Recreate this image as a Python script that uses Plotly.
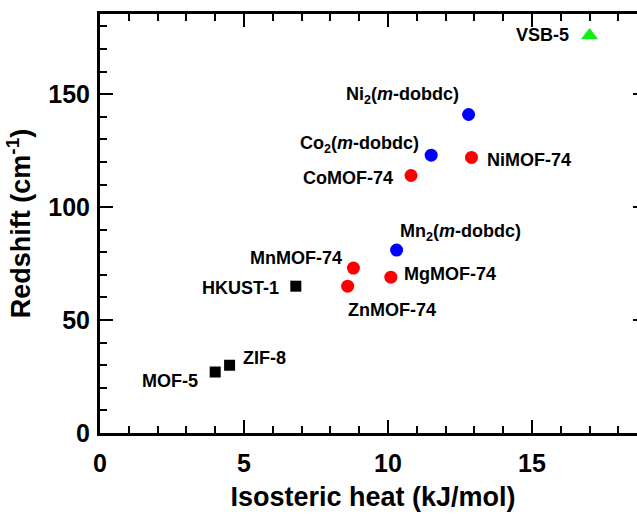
import plotly.graph_objects as go

# Data
names = ["MOF-5", "ZIF-8", "HKUST-1",
         "MnMOF-74", "ZnMOF-74", "MgMOF-74", "CoMOF-74", "NiMOF-74",
         "Mn<sub>2</sub>(<i>m</i>-dobdc)", "Co<sub>2</sub>(<i>m</i>-dobdc)", "Ni<sub>2</sub>(<i>m</i>-dobdc)",
         "VSB-5"]
heat = [4.0, 4.5, 6.8,
        8.8, 8.6, 10.1, 10.8, 12.9,
        10.3, 11.5, 12.8,
        17.0]
redshift = [27, 30, 65,
            73, 65, 69, 114, 122,
            81, 123, 141,
            176]
group = ["sq", "sq", "sq",
         "red", "red", "red", "red", "red",
         "blue", "blue", "blue",
         "tri"]

x_ticks = [0, 5, 10, 15]
y_ticks = [0, 50, 100, 150]

# label placement (style): (xanchor, xshift px, yshift px)
label_pos = [("right", -16, -9), ("left", 12, 7), ("right", -16, -2),
             ("right", -10, 10), ("left", -1, -24), ("left", 12, 3), ("right", -17, -2), ("left", 15, -3),
             ("left", 2, 18), ("right", -11, 11), ("right", -9, 19),
             ("right", -20, 0)]

styles = {
    "sq": dict(symbol="square", color="black", size=11),
    "red": dict(symbol="circle", color="#ff0000", size=13),
    "blue": dict(symbol="circle", color="#0000ff", size=13),
    "tri": dict(symbol="triangle-up", color="#11ee11", size=15),
}

fig = go.Figure()
for g, st in styles.items():
    xs = [x for x, gg in zip(heat, group) if gg == g]
    ys = [y for y, gg in zip(redshift, group) if gg == g]
    fig.add_trace(go.Scatter(x=xs, y=ys, mode="markers",
                             marker=dict(symbol=st["symbol"], color=st["color"], size=st["size"],
                                         line=dict(width=0)),
                             showlegend=False, hoverinfo="skip"))

for n, x, y, (xa, xs, ys) in zip(names, heat, redshift, label_pos):
    fig.add_annotation(x=x, y=y, xref="x", yref="y", text=n, showarrow=False,
                       xanchor=xa, yanchor="middle", xshift=xs, yshift=ys, borderpad=0,
                       font=dict(family="Liberation Sans", size=18, color="black", weight="bold"))

axis_common = dict(
    showline=True, linewidth=3, linecolor="black", mirror="ticks",
    ticks="inside", ticklen=13, tickwidth=2, tickcolor="black",
    showgrid=False, zeroline=False, automargin=False,
    tickfont=dict(family="Liberation Sans", size=25, color="black", weight="bold"),
    title_font=dict(family="Liberation Sans", size=27, color="black", weight="bold"),
)

fig.update_xaxes(range=[0, 18.96], tickvals=x_ticks, ticktext=[str(v) for v in x_ticks],
                 minor=dict(dtick=1, tick0=0, ticks="inside", ticklen=7, tickwidth=2, tickcolor="black"),
                 title_text="Isosteric heat (kJ/mol)", title_standoff=12, ticklabelstandoff=6,
                 **axis_common)
fig.update_yaxes(range=[0, 185.5], tickvals=y_ticks, ticktext=[str(v) for v in y_ticks],
                 minor=dict(dtick=10, tick0=0, ticks="inside", ticklen=7, tickwidth=2, tickcolor="black"),
                 title_text="Redshift (cm<sup>-1</sup>)", title_standoff=10, ticklabelstandoff=2,
                 **axis_common)

# The reference crops the plot frame at its right edge; the page is 637 px wide.
fig.update_layout(width=646, height=514,
                  margin=dict(l=100, r=0, t=14, b=81),
                  paper_bgcolor="white", plot_bgcolor="white",
                  font=dict(family="Liberation Sans"))

fig.write_html("out.html", config={"displayModeBar": False},
               post_script="document.body.style.margin='0';document.body.style.overflow='hidden';")
